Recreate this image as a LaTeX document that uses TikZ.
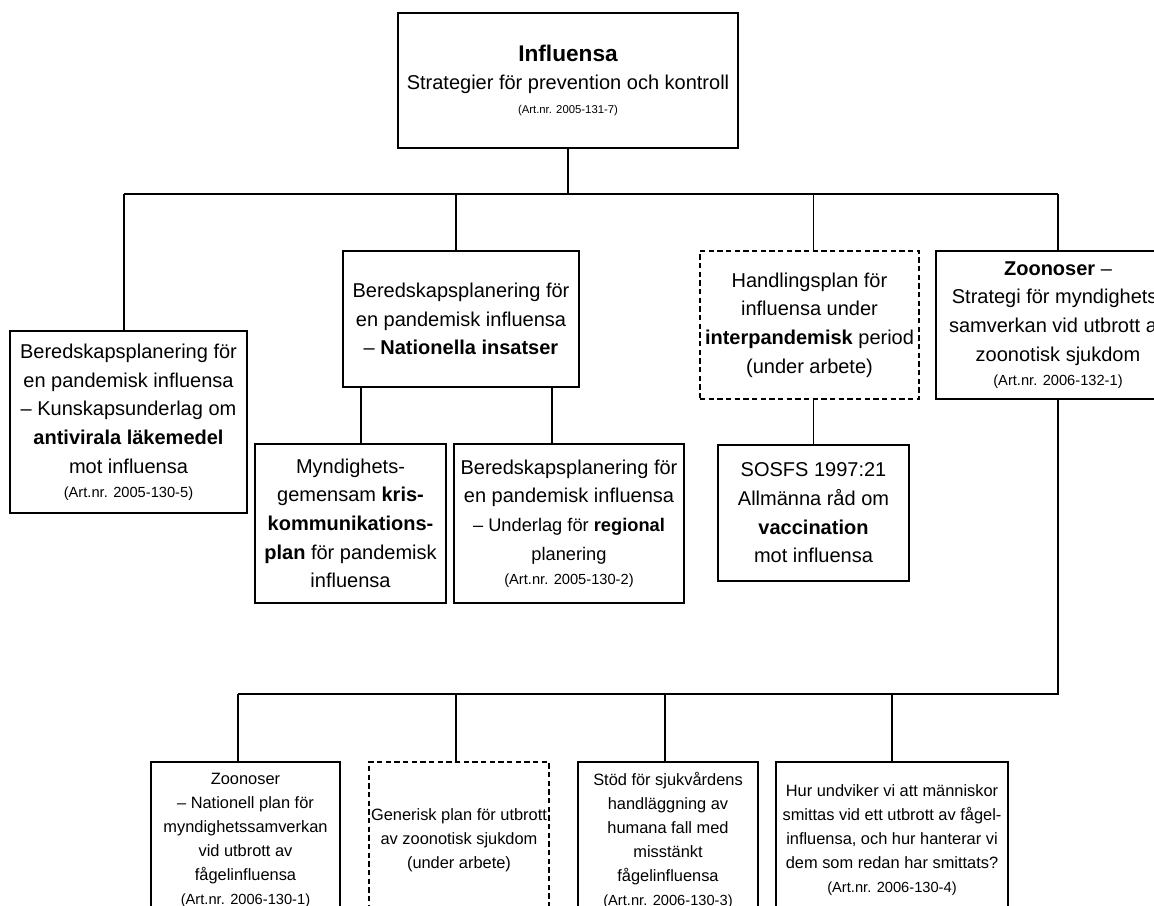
\documentclass[tikz,border=0pt]{standalone}
\usepackage{fontspec}
\setmainfont{Liberation Sans}
\newcommand\mybody{\fontsize{15}{21.5}\selectfont}
\newcommand\mysmallbody{\fontsize{12.3}{18}\selectfont}
\newcommand\myart{\fontsize{11}{13}\selectfont}
\newcommand\mymid{\fontsize{13.7}{16}\selectfont}
\tikzset{
  box/.style={draw, line width=0.9pt, rectangle, inner sep=0pt, align=center, font=\mybody},
  sbox/.style={box, font=\mysmallbody},
  dashbox/.style={dash pattern=on 4pt off 2.5pt},
  bsize/.style 2 args={minimum width=#1*0.75pt, minimum height=#2*0.75pt},
  conn/.style={line width=0.9pt}
}
\begin{document}
\begin{tikzpicture}[x=0.75pt,y=-0.75pt]
\useasboundingbox (0,0) rectangle (1154,906);
\clip (0,0) rectangle (1154,906);
\fill[white] (0,0) rectangle (1154,906);

% top
\node[box,bsize={340}{135}] (top) at (568,80.5)
  {{\fontsize{17}{20}\selectfont\bfseries Influensa}\\Strategier för prevention och kontroll\\[-3.5pt]{\fontsize{8.5}{10}\selectfont (Art.nr. 2005-131-7)}};

% second level
\node[box,bsize={237}{182}] (kun) at (128.5,422)
  {Beredskapsplanering för\\en pandemisk influensa\\– Kunskapsunderlag om\\\textbf{antivirala läkemedel}\\mot influensa\\[-3.5pt]{\myart (Art.nr. 2005-130-5)}};
\node[box,bsize={236}{136}] (nat) at (461,319)
  {Beredskapsplanering för\\en pandemisk influensa\\– \textbf{Nationella insatser}};
\node[box,dashbox,bsize={219}{148}] (hand) at (809.5,325)
  {Handlingsplan för\\influensa under\\\textbf{interpandemisk} period\\(under arbete)};
\node[box,bsize={244}{148}] (zoo) at (1058,325)
  {\textbf{Zoonoser} –\\Strategi för myndighets-\\samverkan vid utbrott av\\zoonotisk sjukdom\\[-3pt]{\myart (Art.nr. 2006-132-1)}};

% third level
\node[box,bsize={191}{159}] (myn) at (350.5,523.5)
  {Myndighets-\\gemensam \textbf{kris-}\\\textbf{kommunikations-}\\\textbf{plan} för pandemisk\\influensa};
\node[box,bsize={230}{159}] (reg) at (569,523.5)
  {Beredskapsplanering för\\en pandemisk influensa\\{\mymid – Underlag för \textbf{regional}}\\{\mymid planering}\\[-3.5pt]{\myart (Art.nr. 2005-130-2)}};
\node[box,bsize={191}{136}] (sos) at (813.5,513)
  {SOSFS 1997:21\\Allmänna råd om\\\textbf{vaccination}\\mot influensa};

% bottom level
\node[sbox,bsize={189}{156}] (zn) at (245.5,840)
  {Zoonoser\\– Nationell plan för\\myndighetssamverkan\\vid utbrott av\\fågelinfluensa\\{\myart (Art.nr. 2006-130-1)}};
\node[sbox,dashbox,bsize={180}{156}] (gen) at (459,840)
  {Generisk plan för utbrott\\av zoonotisk sjukdom\\(under arbete)};
\node[sbox,bsize={180}{156}] (stod) at (668,840)
  {Stöd för sjukvårdens\\handläggning av\\humana fall med\\misstänkt\\fågelinfluensa\\{\myart (Art.nr. 2006-130-3)}};
\node[sbox,bsize={232}{156}] (hur) at (892,840)
  {Hur undviker vi att människor\\smittas vid ett utbrott av fågel-\\influensa, och hur hanterar vi\\dem som redan har smittats?\\{\myart (Art.nr. 2006-130-4)}};

% connector coordinates
\coordinate (ja) at (124,194);
\coordinate (jb) at (456,194);
\coordinate (jc) at (813.5,194);
\coordinate (jd) at (1058,194);
\coordinate (xa) at (361,0);
\coordinate (xb) at (552,0);
\coordinate (ka) at (238,694);
\coordinate (kb) at (456,694);
\coordinate (kc) at (665,694);
\coordinate (kd) at (892,694);
\coordinate (ke) at (1058,694);

% connectors
\draw[conn] (top.south) -- (top.south |- ja);
\draw[conn] (ja) -- (jd);
\draw[conn] (ja) -- (ja |- kun.north);
\draw[conn] (jb) -- (jb |- nat.north);
\draw[conn] (jc) -- (jc |- hand.north);
\draw[conn] (jd) -- (jd |- zoo.north);
\draw[conn] (xa |- nat.south) -- (xa |- myn.north);
\draw[conn] (xb |- nat.south) -- (xb |- reg.north);
\draw[conn] (hand.south -| sos.north) -- (sos.north);
\draw[conn] (zoo.south) -- (ke) -- (ka);
\draw[conn] (ka) -- (ka |- zn.north);
\draw[conn] (kb) -- (kb |- gen.north);
\draw[conn] (kc) -- (kc |- stod.north);
\draw[conn] (kd) -- (kd |- hur.north);
\end{tikzpicture}
\end{document}
